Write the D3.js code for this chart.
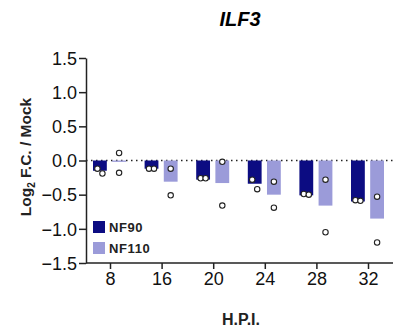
<!DOCTYPE html>
<html>
<head>
<meta charset="utf-8">
<script src="https://cdn.jsdelivr.net/npm/d3@7"></script>
<style>
  body { margin: 0; background: #fff; }
  text { font-family: "Liberation Sans", Arial, sans-serif; }
</style>
</head>
<body>
<div id="chart"></div>
<script>
// values
var hpi = ["8", "16", "20", "24", "28", "32"];
var series = ["NF90", "NF110"];
var nf90 = [-0.15, -0.12, -0.28, -0.34, -0.51, -0.60];
var nf110 = [-0.02, -0.31, -0.33, -0.50, -0.66, -0.85];
// individual replicates
var nf90Points = [[-0.12, -0.19], [-0.12, -0.12], [-0.26, -0.26], [-0.28, -0.42], [-0.49, -0.50], [-0.58, -0.59]];
var nf110Points = [[0.11, -0.18], [-0.12, -0.51], [-0.02, -0.66], [-0.31, -0.69], [-0.28, -1.05], [-0.53, -1.20]];
var yTicks = [-1.5, -1.0, -0.5, 0.0, 0.5, 1.0, 1.5];

var colors = { NF90: "#0c0c82", NF110: "#9b9bd9" };

var width = 398, height = 331;
var svg = d3.select("#chart").append("svg")
  .attr("width", width)
  .attr("height", height);

var y = d3.scaleLinear().domain([-1.5, 1.5]).range([263, 58]);
var x = d3.scalePoint().domain(hpi).range([110, 368]);
var xSub = d3.scaleBand().domain(series).range([-17, 16]).paddingInner(0.28);

// zero line (dotted)
svg.append("line")
  .attr("x1", 86).attr("x2", 393)
  .attr("y1", y(0)).attr("y2", y(0))
  .style("stroke", "#222")
  .style("stroke-width", 1.5)
  .style("stroke-dasharray", "1.5,3.5");

var data = [];
hpi.forEach(function(h, i) {
  data.push({ h: h, s: "NF90", v: nf90[i], pts: nf90Points[i] });
  data.push({ h: h, s: "NF110", v: nf110[i], pts: nf110Points[i] });
});

// bars
svg.selectAll("rect.bar")
  .data(data)
  .enter().append("rect")
  .attr("class", "bar")
  .attr("x", d => x(d.h) + xSub(d.s))
  .attr("width", xSub.bandwidth())
  .attr("y", d => Math.min(y(d.v), y(0)))
  .attr("height", d => Math.max(1.2, Math.abs(y(d.v) - y(0))))
  .style("fill", d => colors[d.s]);

// replicate points
var pts = [];
data.forEach(function(d) {
  d.pts.forEach(function(p, j) {
    var off = d.s === "NF90" ? (j === 0 ? -2.5 : 2.5) : 0;
    pts.push({ cx: x(d.h) + xSub(d.s) + xSub.bandwidth() / 2 + off, v: p });
  });
});
svg.selectAll("circle.pt")
  .data(pts)
  .enter().append("circle")
  .attr("class", "pt")
  .attr("cx", d => d.cx)
  .attr("cy", d => y(d.v))
  .attr("r", 2.7)
  .style("fill", "#fff")
  .style("stroke", "#222")
  .style("stroke-width", 1.1);

// axes
var yAxis = svg.append("g")
  .attr("transform", "translate(86,0)")
  .call(d3.axisLeft(y).tickValues(yTicks).tickFormat(d3.format(".1f")).tickSize(7).tickSizeOuter(0));
var xAxis = svg.append("g")
  .attr("transform", "translate(0,263)")
  .call(d3.axisBottom(x).tickSize(6).tickSizeOuter(0));

xAxis.select(".domain").attr("d", "M86,0H393");
[yAxis, xAxis].forEach(function(a) {
  a.selectAll(".domain, line").style("stroke", "#222").style("stroke-width", 1.5);
  a.selectAll("text")
    .style("font-size", "18px")
    .style("fill", "#111");
});
yAxis.selectAll("text").attr("x", -9).attr("dy", "0.35em");
xAxis.selectAll("text").attr("y", 9);

// legend
var legend = svg.selectAll("g.legend")
  .data(series)
  .enter().append("g")
  .attr("class", "legend")
  .attr("transform", (d, i) => "translate(93," + (221 + i * 21) + ")");
legend.append("rect")
  .attr("width", 12).attr("height", 12)
  .style("fill", d => colors[d]);
legend.append("text")
  .attr("x", 16).attr("y", 11)
  .style("font-size", "13px")
  .style("font-weight", "bold")
  .style("fill", "#222")
  .style("letter-spacing", "0.6px")
  .text(d => d);

// title
svg.append("text")
  .attr("x", 240).attr("y", 26)
  .attr("text-anchor", "middle")
  .style("font-size", "20px")
  .style("font-weight", "bold")
  .style("font-style", "italic")
  .text("ILF3");

// x label
svg.append("text")
  .attr("x", 241).attr("y", 325)
  .attr("text-anchor", "middle")
  .style("font-size", "16px")
  .style("font-weight", "bold")
  .style("fill", "#222")
  .text("H.P.I.");

// y label with subscript
var yl = svg.append("text")
  .attr("transform", "translate(31,157) rotate(-90)")
  .attr("text-anchor", "middle")
  .style("font-size", "15.5px")
  .style("font-weight", "bold")
  .style("fill", "#222");
yl.append("tspan").text("Log");
yl.append("tspan").attr("dy", 4).style("font-size", "10px").text("2");
yl.append("tspan").attr("dy", -4).text(" F.C. / Mock");
</script>
</body>
</html>
